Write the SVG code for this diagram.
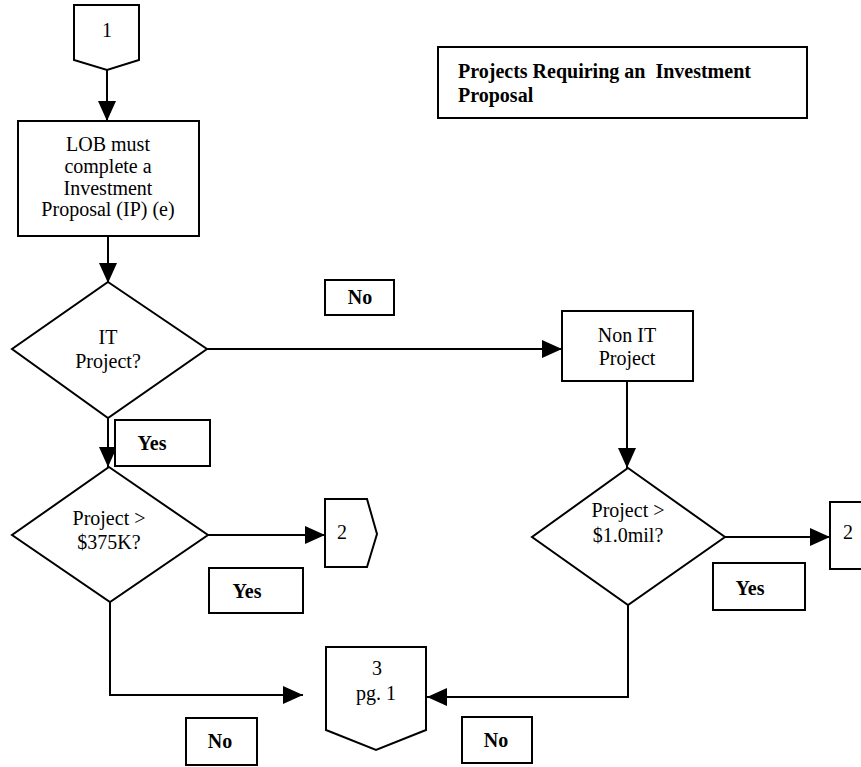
<svg xmlns="http://www.w3.org/2000/svg" width="861" height="767" viewBox="0 0 861 767">
  <style>
    .shape { fill: #fff; stroke: #000; stroke-width: 2; }
    .line { fill: none; stroke: #000; stroke-width: 2; }
    text { font-family: "Liberation Serif", "Times New Roman", serif; font-size: 20px; fill: #000; text-anchor: middle; }
    .bold { font-weight: bold; }
    .title { font-weight: bold; text-anchor: start; white-space: pre; }
  </style>
  <defs>
    <marker id="arrow" markerUnits="userSpaceOnUse" markerWidth="20" markerHeight="18" refX="20" refY="9" orient="auto">
      <path d="M0,0 L20,9 L0,18 Z" fill="#000"/>
    </marker>
  </defs>
  <rect width="861" height="767" fill="#fff"/>

  <!-- connectors -->
  <g id="connectors" class="line" marker-end="url(#arrow)">
    <path d="M107,70 V121"/>
    <path d="M108,236 V283"/>
    <path d="M207,349 H562"/>
    <path d="M108,418 V467"/>
    <path d="M627,381 V468"/>
    <path d="M208,535 H325"/>
    <path d="M725,537 H830"/>
    <path d="M110,602 V695 H303"/>
    <path d="M628,605 V697 H427"/>
  </g>

  <!-- nodes -->
  <g id="title">
    <rect class="shape" x="438" y="47" width="369" height="71"/>
    <text class="title" x="458" y="78" xml:space="preserve">Projects Requiring an  Investment</text>
    <text class="title" x="458" y="102">Proposal</text>
  </g>

  <g id="connector-1">
    <path class="shape" d="M74,5 H139 V60 L107,70 L74,60 Z"/>
    <text x="107" y="37">1</text>
  </g>

  <g id="lob-ip">
    <rect class="shape" x="18" y="121" width="181" height="115"/>
    <text x="108" y="151">LOB must</text>
    <text x="108" y="173">complete a</text>
    <text x="108" y="195">Investment</text>
    <text x="108" y="216">Proposal (IP) (e)</text>
  </g>

  <g id="it-project">
    <path class="shape" d="M108,282 L207,349 L108,418 L12,349 Z"/>
    <text x="108" y="344">IT</text>
    <text x="108" y="368">Project?</text>
  </g>

  <g id="label-no-1">
    <rect class="shape" x="325" y="280" width="69" height="35"/>
    <text class="bold" x="360" y="304">No</text>
  </g>

  <g id="non-it-project">
    <rect class="shape" x="562" y="311" width="131" height="70"/>
    <text x="627" y="342">Non IT</text>
    <text x="627" y="365">Project</text>
  </g>

  <g id="label-yes-1">
    <rect class="shape" x="115" y="420" width="95" height="46"/>
    <text class="bold" x="152" y="450">Yes</text>
  </g>

  <g id="over-375k">
    <path class="shape" d="M109,467 L208,535 L110,602 L12,535 Z"/>
    <text x="109" y="525">Project &gt;</text>
    <text x="109" y="549">$375K?</text>
  </g>

  <g id="connector-2a">
    <path class="shape" d="M325,499 H367 L377,534 L367,567 H325 Z"/>
    <text x="342" y="539">2</text>
  </g>

  <g id="label-yes-2">
    <rect class="shape" x="209" y="568" width="94" height="45"/>
    <text class="bold" x="247" y="598">Yes</text>
  </g>

  <g id="over-1mil">
    <path class="shape" d="M628,468 L725,537 L628,605 L532,537 Z"/>
    <text x="628" y="517">Project &gt;</text>
    <text x="628" y="542">$1.0mil?</text>
  </g>

  <g id="connector-2b">
    <path class="shape" d="M830,502 H872 L882,536 L872,569 H830 Z"/>
    <text x="848" y="539">2</text>
  </g>

  <g id="label-yes-3">
    <rect class="shape" x="713" y="563" width="92" height="47"/>
    <text class="bold" x="750" y="595">Yes</text>
  </g>

  <g id="connector-3">
    <path class="shape" d="M326,647 H426 V730 L376,750 L326,730 Z"/>
    <text x="377" y="675">3</text>
    <text x="376" y="700">pg. 1</text>
  </g>

  <g id="label-no-2">
    <rect class="shape" x="186" y="718" width="71" height="47"/>
    <text class="bold" x="220" y="748">No</text>
  </g>

  <g id="label-no-3">
    <rect class="shape" x="462" y="717" width="70" height="46"/>
    <text class="bold" x="496" y="747">No</text>
  </g>
</svg>
